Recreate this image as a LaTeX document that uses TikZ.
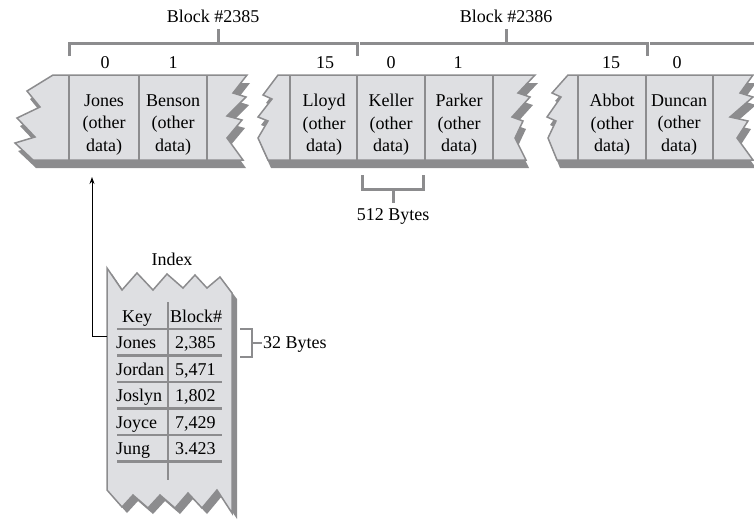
\documentclass[tikz,border=0pt]{standalone}
\usepackage{fontspec}
\setmainfont{Liberation Serif}
\usetikzlibrary{arrows.meta}
\definecolor{lt}{RGB}{222,223,226}
\definecolor{dk}{RGB}{140,140,142}
\newcommand\stripone{(53,75) -- (247,75) -- (233,93) -- (246,97) -- (227,116) -- (242,120) -- (227,138) -- (243,160) -- (33,160) -- (15,143) -- (35,137) -- (17,118) -- (40,107) -- (27,91) -- cycle}
\newcommand\striptwo{(278,75) -- (535,75) -- (518,93) -- (530,97) -- (512,117) -- (523,121) -- (515,138) -- (526,160) -- (268,160) -- (258,138) -- (268,121) -- (258,117) -- (272,99) -- (263,95) -- cycle}
\newcommand\stripthree{(568,75) -- (753,75) -- (740,93) -- (753,97) -- (730,117) -- (748,121) -- (737,138) -- (753,160) -- (557,160) -- (548,138) -- (556,121) -- (547,117) -- (561,97) -- (552,93) -- cycle}
\newcommand\indexshape{(107,268) -- (122,290) -- (137,273) -- (153,290) -- (167,274) -- (183,288) -- (195,275) -- (207,288) -- (220,277) -- (232,293) -- (232,513) -- (217,490) -- (202,508) -- (188,493) -- (175,508) -- (160,495) -- (148,508) -- (133,495) -- (122,507) -- (107,490) -- cycle}
\begin{document}
\begin{tikzpicture}[x=1pt,y=-1pt,
  font=\fontsize{18}{22.5}\selectfont,
  paper/.style={fill=lt,draw=dk,line width=1.5pt,line join=miter},
  shad/.style={fill=dk},
  divline/.style={draw=dk,line width=2.5pt},
  brk/.style={draw=dk,line width=3pt},
  celltxt/.style={align=center,inner sep=0pt},
  lbl/.style={inner sep=0pt,anchor=base},
  tlbl/.style={inner sep=0pt,anchor=base west},
  ptr/.style={draw=black,line width=0.9pt,-{Stealth[length=7pt,width=5pt]}}]
\useasboundingbox (0,0) rectangle (754,520);
% shadows
\fill[shad,shift={(3,8)}] \stripone;
\fill[shad,shift={(3,8)}] \striptwo;
\fill[shad,shift={(3,8)}] \stripthree;
\fill[shad,shift={(5,6)}] \indexshape;
% papers
\path[paper] \stripone;
\path[paper] \striptwo;
\path[paper] \stripthree;
\path[paper] \indexshape;
% cell dividers
\foreach \x in {69,139,207,290,357,425,493,578,646,713}
  \draw[divline] (\x,75) -- (\x,160);
% block brackets
\draw[brk] (69,56) -- (69,43) -- (357,43) -- (357,56);
\draw[brk] (218,43) -- (218,29);
\draw[brk] (360,43) -- (647,43) -- (647,56);
\draw[brk] (506,43) -- (506,29);
\draw[brk] (650,43) -- (756,43);
\node[lbl] (b1) at (213,22) {Block \#2385};
\node[lbl] (b2) at (506,22) {Block \#2386};
% record numbers
\node[lbl] (n1) at (105,68) {0};
\node[lbl] (n2) at (173,68) {1};
\node[lbl] (n3) at (325,68) {15};
\node[lbl] (n4) at (391,68) {0};
\node[lbl] (n5) at (458,68) {1};
\node[lbl] (n6) at (611,68) {15};
\node[lbl] (n7) at (677,68) {0};
% cells
\node[celltxt] (cJones) at (104,125) {Jones\\(other\\data)};
\node[celltxt] (cBenson) at (173,125) {Benson\\(other\\data)};
\node[celltxt] (cLloyd) at (324,125) {Lloyd\\(other\\data)};
\node[celltxt] (cKeller) at (391,125) {Keller\\(other\\data)};
\node[celltxt] (cParker) at (459,125) {Parker\\(other\\data)};
\node[celltxt] (cAbbot) at (612,125) {Abbot\\(other\\data)};
\node[celltxt] (cDuncan) at (679,125) {Duncan\\(other\\data)};
% 512 bytes bracket
\draw[brk] (362,175) -- (362,189) -- (423,189) -- (423,175);
\draw[brk] (393,189) -- (393,203);
\node[lbl] (b512) at (393,220) {512 Bytes};
% index
\node[lbl] (idx) at (172,265) {Index};
\draw[divline] (168,302) -- (168,480);
\foreach \y in {329,355.5,382,408.5,435,461.5}
  \draw[divline] (117,\y) -- (222,\y);
\node[tlbl] (hKey) at (122,322) {Key};
\node[tlbl] (hBlk) at (170,322) {Block\#};
\node[tlbl] (kJones) at (116,348.5) {Jones};
\node[tlbl] (kJordan) at (116,375) {Jordan};
\node[tlbl] (kJoslyn) at (116,401.5) {Joslyn};
\node[tlbl] (kJoyce) at (116,428) {Joyce};
\node[tlbl] (kJung) at (116,454.5) {Jung};
\node[tlbl] (v1) at (175,348.5) {2,385};
\node[tlbl] (v2) at (175,375) {5,471};
\node[tlbl] (v3) at (175,401.5) {1,802};
\node[tlbl] (v4) at (175,428) {7,429};
\node[tlbl] (v5) at (175,454.5) {3.423};
% 32 bytes bracket
\draw[draw=dk,line width=2.5pt] (240,329) -- (252,329) -- (252,357) -- (240,357);
\draw[draw=dk,line width=2pt] (252,343) -- (262,343);
\node[tlbl] (b32) at (263,348) {32 Bytes};
% pointer
\coordinate (ptrStart) at (107,336);
\coordinate (ptrEnd) at (92,177);
\draw[ptr] (ptrStart) -| (ptrEnd);
\end{tikzpicture}
\end{document}
